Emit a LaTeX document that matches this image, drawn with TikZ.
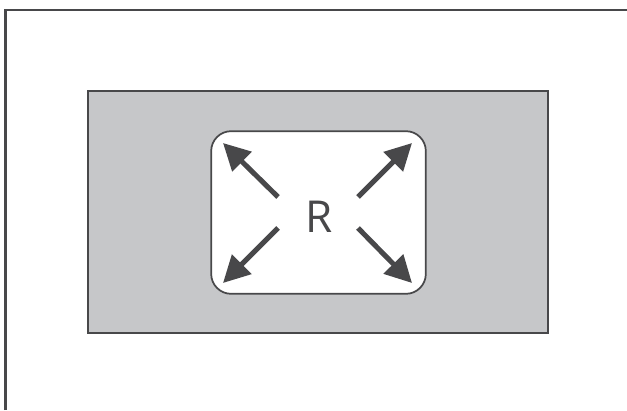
\documentclass[tikz,border=0pt]{standalone}
\usepackage{fontspec}
\setmainfont{Open Sans}
\usetikzlibrary{arrows.meta,positioning}
\begin{document}
\begin{tikzpicture}[x=0.75pt,y=-0.75pt]
%
\useasboundingbox (0,0) rectangle (627,410);
%
\definecolor{cline}{RGB}{72,72,74}
\definecolor{cfill}{RGB}{198,199,201}
\definecolor{cbox}{RGB}{255,255,255}
%
\tikzset{
  frame/.style={draw=cline,line width=1.6pt},
  zone/.style={draw=cline,fill=cfill,line width=1.7pt,minimum width=345pt,minimum height=181.5pt,inner sep=0pt},
  room/.style={draw=cline,fill=cbox,line width=1.3pt,rounded corners=15pt,minimum width=161pt,minimum height=122pt,inner sep=0pt},
  lbl/.style={text=cline,font=\fontsize{33}{33}\selectfont,inner sep=0pt},
  push/.style={draw=cline,line width=3.8pt,-{Triangle[length=20pt,width=20pt]}}
}
%
\coordinate (fb) at (5.5,410);
\coordinate (fr) at (627,10);
\draw[frame] (fb) |- (fr);
%
\node[zone] (area) at (318,212) {};
\node[room] (room) at (318.5,212.5) {};
\node[lbl] (r) at (319,217) {R};
%
\coordinate (nw0) at (278,197);
\coordinate (nw1) at (223,143);
\coordinate (ne0) at (358,197);
\coordinate (ne1) at (412,143);
\coordinate (sw0) at (278,228);
\coordinate (sw1) at (223,283);
\coordinate (se0) at (358,228);
\coordinate (se1) at (412,283);
%
\draw[push] (nw0) -- (nw1);
\draw[push] (ne0) -- (ne1);
\draw[push] (sw0) -- (sw1);
\draw[push] (se0) -- (se1);
%
\end{tikzpicture}
\end{document}
